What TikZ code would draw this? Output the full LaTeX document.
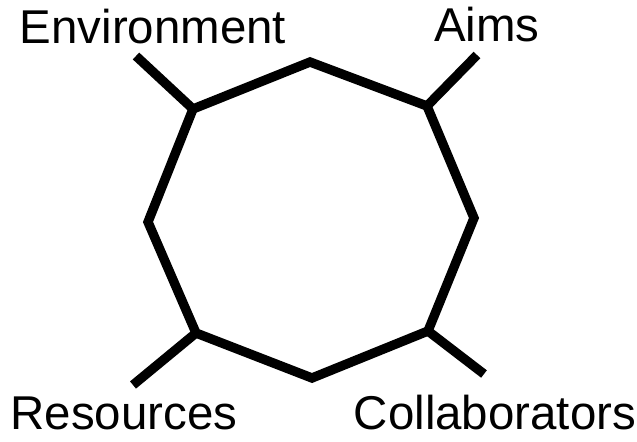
\documentclass[tikz,border=0pt]{standalone}
\usepackage{fontspec}
\setmainfont{Liberation Sans}
\usetikzlibrary{positioning}

\tikzset{
  rim/.style={line width=8pt, line join=miter},
  spoke/.style={line width=8pt},
  lbl/.style={anchor=base, inner sep=0pt, font=\fontsize{40.5}{48}\selectfont}
}

\begin{document}
\begin{tikzpicture}[x=0.03cm, y=-0.03cm]
  \useasboundingbox (0,0) rectangle (637,441);

  % corners of the ring
  \coordinate (top)  at (310,62);
  \coordinate (ur)   at (427,106);
  \coordinate (rgt)  at (474,218);
  \coordinate (lr)   at (428,331);
  \coordinate (bot)  at (312,378);
  \coordinate (ll)   at (196,333);
  \coordinate (lft)  at (148,222);
  \coordinate (ul)   at (193,109);

  \draw[rim] (top) -- (ur) -- (rgt) -- (lr) -- (bot) -- (ll) -- (lft) -- (ul) -- cycle;

  % free ends of the spokes
  \coordinate (envend) at (136,56);
  \coordinate (aimend) at (477,55);
  \coordinate (resend) at (133,385);
  \coordinate (colend) at (484,374);

  \draw[spoke] (ul) -- (envend);
  \draw[spoke] (ur) -- (aimend);
  \draw[spoke] (ll) -- (resend);
  \draw[spoke] (lr) -- (colend);

  % labels
  \node[lbl] (env) at (153,43)  {Environment};
  \node[lbl] (aim) at (487,41)  {Aims};
  \node[lbl] (res) at (124,429) {Resources};
  \node[lbl] (col) at (495,429) {Collaborators};
\end{tikzpicture}
\end{document}
